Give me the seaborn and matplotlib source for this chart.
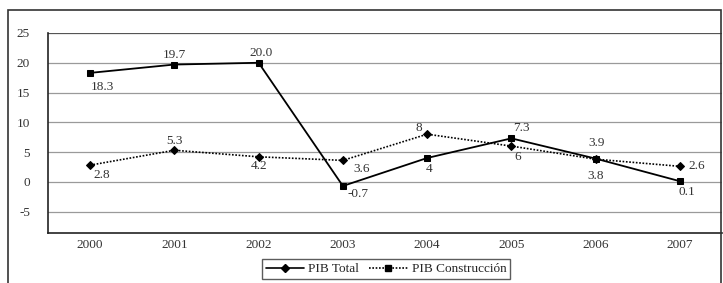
import matplotlib
matplotlib.use("Agg")
import matplotlib.pyplot as plt
from matplotlib.lines import Line2D
from matplotlib.patches import Rectangle
import pandas as pd
import seaborn as sns

# ── data ──────────────────────────────────────────────────────────────────────
years = [2000, 2001, 2002, 2003, 2004, 2005, 2006, 2007]
pib_construccion = [18.3, 19.7, 20.0, -0.7, 4, 7.3, 3.9, 0.1]
pib_total = [2.8, 5.3, 4.2, 3.6, 8, 6, 3.8, 2.6]
labels_construccion = ["18.3", "19.7", "20.0", "-0.7", "4", "7.3", "3.9", "0.1"]
labels_total = ["2.8", "5.3", "4.2", "3.6", "8", "6", "3.8", "2.6"]
y_ticks = [-5, 0, 5, 10, 15, 20, 25]

# label offsets in pixels (dx, dy)
off_construccion = [(12, -14), (0, 10), (2, 10), (15, -8), (2, -11), (10, 10), (1, 16), (7, -11)]
off_total = [(12, -10), (0, 9), (0, -9), (19, -9), (-8, 6), (6, -11), (0, -17), (17, 0)]

sns.set_style("white")
plt.rcParams["font.family"] = ["Liberation Serif", "DejaVu Serif"]
plt.rcParams["axes.unicode_minus"] = False

df = pd.DataFrame({"year": years, "construccion": pib_construccion, "total": pib_total})

fig = plt.figure(figsize=(7.23, 2.83), dpi=100)
ax = fig.add_axes([48 / 723, 50 / 283, 674 / 723, 200 / 283])

for y in y_ticks:
    ax.axhline(y, color="#555555" if y == 25 else "#9a9a9a", lw=0.9, zorder=0)

sns.lineplot(data=df, x="year", y="construccion", ax=ax, color="black", lw=1.3,
             marker="s", markersize=5, markeredgecolor="black", zorder=3)
sns.lineplot(data=df, x="year", y="total", ax=ax, color="black", lw=1.2, ls=(0, (1, 1)),
             marker="D", markersize=4, markeredgecolor="black", zorder=3)

text_kw = dict(textcoords="offset pixels", ha="center", va="center",
               fontsize=9.5, color="#333333")
for x, y, lab, off in zip(years, pib_construccion, labels_construccion, off_construccion):
    ax.annotate(lab, (x, y), xytext=off, **text_kw)
for x, y, lab, off in zip(years, pib_total, labels_total, off_total):
    ax.annotate(lab, (x, y), xytext=off, **text_kw)

ax.set_xlim(1999.5, 2007.5)
ax.set_ylim(-8.6, 25)
ax.set_xticks(years)
ax.set_xticklabels([str(y) for y in years])
ax.set_xticks([y + 0.5 for y in years[:-1]], minor=True)
ax.set_yticks(y_ticks)
ax.set_xlabel("")
ax.set_ylabel("")
ax.tick_params(axis="x", which="major", length=0, pad=4, labelsize=9.5, labelcolor="#333333")
ax.tick_params(axis="x", which="minor", length=3, direction="in", color="#555555")
ax.tick_params(axis="y", length=0, pad=13, labelsize=9.5, labelcolor="#333333")

for side in ["top", "right"]:
    ax.spines[side].set_visible(False)
ax.spines["left"].set_color("#222222")
ax.spines["bottom"].set_color("#222222")
ax.spines["left"].set_linewidth(1.2)
ax.spines["bottom"].set_linewidth(1.2)

# outer frame
fig.patches.append(Rectangle((8 / 723, -0.02), 713 / 723, (273 / 283) + 0.02,
                             transform=fig.transFigure, fill=False,
                             edgecolor="#333333", lw=1.2))

handles = [
    Line2D([], [], color="black", lw=1.2, marker="D", markersize=4),
    Line2D([], [], color="black", lw=1.2, ls=(0, (1, 1)), marker="s", markersize=5),
]
fig.legend(handles, ["PIB Total", "PIB Construcción"], loc="center",
           bbox_to_anchor=(386 / 723, 14 / 283), ncol=2, frameon=True,
           fancybox=False, edgecolor="#333333", fontsize=9.5, handlelength=2.9,
           handletextpad=0.3, columnspacing=0.8, borderpad=0.3)

fig.savefig("out.png", dpi=100)
